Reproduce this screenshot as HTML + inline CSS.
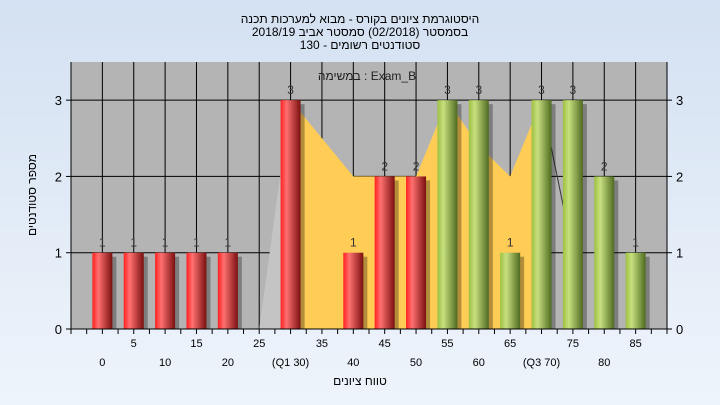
<!DOCTYPE html>
<html><head><meta charset="utf-8"><style>
html,body{margin:0;padding:0}
body{width:720px;height:405px;overflow:hidden;background:linear-gradient(#d4e1f2,#eef4fb);font-family:"Liberation Sans","Noto Sans CJK SC",sans-serif}
svg{display:block}
text{font-family:"Liberation Sans","Noto Sans CJK SC",sans-serif}
</style></head><body>
<svg id="chart" width="720" height="405" xmlns="http://www.w3.org/2000/svg">
<defs>
<linearGradient id="gRed" x1="0" x2="1"><stop offset="0" stop-color="#ff2020"/><stop offset="0.3" stop-color="#ff7070"/><stop offset="1" stop-color="#7a1010"/></linearGradient>
<linearGradient id="gGreen" x1="0" x2="1"><stop offset="0" stop-color="#9cc040"/><stop offset="0.3" stop-color="#c8e080"/><stop offset="1" stop-color="#4e6a20"/></linearGradient>
</defs>
<g font-size="12" text-anchor="middle" fill="#000">
<text x="360" y="23">היסטוגרמת ציונים בקורס - מבוא למערכות תכנה</text>
<text x="360" y="36">בסמסטר  (02/2018)  סמסטר אביב 2018/19</text>
<text x="360" y="49">סטודנטים רשומים - 130</text>
</g>
<rect x="71" y="62" width="596" height="267" fill="#b4b4b4"/>
<g id="grid"></g>
<g id="area"></g>
<g id="bars"></g>
<g id="axes"></g>
<text x="367" y="80" font-size="12" text-anchor="middle" fill="#222">במשימה : Exam_B</text>
<text transform="translate(36,195) rotate(-90)" font-size="12" text-anchor="middle">מספר סטודנטים</text>
<text x="360" y="385" font-size="12" text-anchor="middle">טווח ציונים</text>
</svg>
<script>
const categories=[0,5,10,15,20,25,30,35,40,45,50,55,60,65,70,75,80,85];
const counts=[1,1,1,1,1,0,3,0,1,2,2,3,3,1,3,3,2,1];
const areaValues=[0,0,0,0,0,0,3,2.5,2,2,2,3,2.4,2,3,1,0,0];
const yTicks=[0,1,2,3];
const q1Index=6, q3Index=14, passFrom=55;
const NS='http://www.w3.org/2000/svg';
const L=71,R=667,T=62,B=329,yMax=3.5;
const step=(R-L)/19;
const x=i=>L+step*(i+1);
const y=v=>B-(B-T)*v/yMax;
function mk(tag,attrs,parent){const e=document.createElementNS(NS,tag);for(const k in attrs)e.setAttribute(k,attrs[k]);parent.appendChild(e);return e;}
const grid=document.getElementById('grid'),area=document.getElementById('area'),bars=document.getElementById('bars'),axes=document.getElementById('axes');
for(let k=0;k<=19;k++){const gx=L+step*k;const l=mk('line',{x1:gx,x2:gx,y1:T,y2:B,stroke:'#000','stroke-width':1},grid);

}
yTicks.forEach(v=>{if(v===0)return;const l=mk('line',{x1:L,x2:R,y1:y(v),y2:y(v),stroke:'#000','stroke-width':1},grid);

});
const g1=mk('polygon',{points:`${x(5)},${y(areaValues[5])} ${x(6)},${y(areaValues[6])} ${x(6)},${B}`,fill:'#c4c4c4'},area);


let pts=`${x(q1Index)},${B} `;for(let i=q1Index;i<=q3Index;i++)pts+=`${x(i)},${y(areaValues[i])} `;pts+=`${x(q3Index)},${B}`;
const ya=mk('polygon',{points:pts,fill:'#ffcc55'},area);


const tl=mk('line',{x1:x(q3Index),y1:y(areaValues[q3Index]),x2:x(q3Index+1),y2:y(areaValues[q3Index+1]),stroke:'#333','stroke-width':1},area);


const bw=20;
categories.forEach((c,i)=>{const v=counts[i];if(v<=0)return;
const bx=x(i)-bw/2,by=y(v);
const sh=mk('rect',{x:bx+4,y:by+4,width:bw,height:B-by-4,fill:'#000',opacity:0.3},bars);


const r=mk('rect',{x:bx,y:by,width:bw,height:B-by,fill:c>=passFrom?'url(#gGreen)':'url(#gRed)'},bars);


const t=mk('text',{x:x(i),y:by-6,'font-size':12,'text-anchor':'middle',fill:'#333'},bars);t.textContent=v;

});
const ax=mk('line',{x1:L,x2:R,y1:B,y2:B,stroke:'#000'},axes);


[L,R].forEach((px,j)=>{const a=mk('line',{x1:px,x2:px,y1:T,y2:B,stroke:'#000'},axes);

});
yTicks.forEach(v=>{[[L-5,L,L-9,'end'],[R,R+5,R+9,'start']].forEach(([a,b,tx,anc])=>{
const tk=mk('line',{x1:a,x2:b,y1:y(v),y2:y(v),stroke:'#000'},axes);


const t=mk('text',{x:tx,y:y(v)+5,'font-size':13,'text-anchor':anc},axes);t.textContent=v;

});});
for(let k=0;k<=38;k++){const px=L+step*k/2;const tk=mk('line',{x1:px,x2:px,y1:B,y2:B+5,stroke:'#000'},axes);

}
categories.forEach((c,i)=>{let s=String(c);if(i===q1Index)s='(Q1 '+c+')';if(i===q3Index)s='(Q3 '+c+')';
const t=mk('text',{x:x(i),y:i%2?347:366,'font-size':11,'text-anchor':'middle'},axes);t.textContent=s;

});
</script>
</body></html>
